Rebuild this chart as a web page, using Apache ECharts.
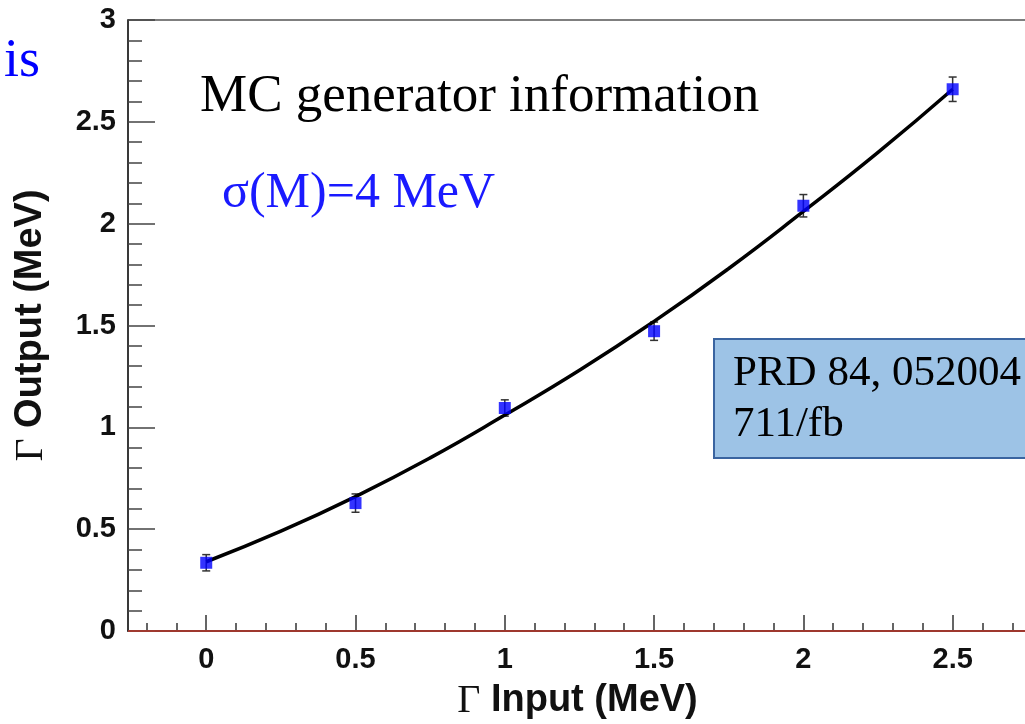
<!DOCTYPE html>
<html>
<head>
<meta charset="utf-8">
<script src="https://cdn.jsdelivr.net/npm/echarts@6/dist/echarts.min.js"></script>
<style>
  html, body { margin: 0; padding: 0; background: #fff; }
  #chart { width: 1025px; height: 724px; }
</style>
</head>
<body>
<div id="chart"></div>
<script>
// MC points: generated width vs fitted width
const inputWidth = [0, 0.5, 1, 1.5, 2, 2.5];
const outputWidth = [0.335, 0.628, 1.095, 1.472, 2.088, 2.66];
const outputError = [0.04, 0.045, 0.04, 0.045, 0.055, 0.06];

// fitted curve
const fitX = [0, 0.25, 0.5, 0.75, 1, 1.25, 1.5, 1.75, 2, 2.25, 2.5];
const fitY = [0.34, 0.49, 0.66, 0.85, 1.06, 1.28, 1.52, 1.78, 2.06, 2.35, 2.66];

const xMajorTicks = [0, 0.5, 1, 1.5, 2, 2.5];
const xMinorTicks = [-0.2, -0.1, 0.1, 0.2, 0.3, 0.4, 0.6, 0.7, 0.8, 0.9, 1.1, 1.2, 1.3, 1.4,
  1.6, 1.7, 1.8, 1.9, 2.1, 2.2, 2.3, 2.4, 2.6, 2.7];

const xMin = -0.262, xMax = 2.749;
const yMin = 0, yMax = 3, yStep = 0.5;

let myChart = echarts.init(document.getElementById('chart'));

const axisFont = { fontFamily: 'Liberation Sans', fontWeight: 'bold', fontSize: 29, color: '#111' };
const titleFont = {
  fontFamily: 'Liberation Sans', fontWeight: 'bold', fontSize: 38, color: '#111',
  rich: { g: { fontFamily: 'Liberation Serif', fontWeight: 'normal', fontSize: 40, color: '#111' } }
};

myChart.setOption({
  animation: false,
  grid: {
    left: 128, right: -2, top: 20, bottom: 93,
    outerBoundsMode: 'none', containLabel: false,
    show: true, borderColor: '#555', borderWidth: 1.5
  },
  xAxis: [
    {
      type: 'value', min: xMin, max: xMax,
      name: '{g|Γ} Input (MeV)', nameLocation: 'middle', nameGap: 50,
      nameTextStyle: titleFont,
      axisLine: { lineStyle: { color: '#222', width: 1.5 } },
      axisTick: { customValues: xMajorTicks, inside: true, length: 16, lineStyle: { color: '#333', width: 1.5 } },
      axisLabel: Object.assign({ customValues: xMajorTicks, margin: 14 }, axisFont),
      splitLine: { show: false }
    },
    {
      type: 'value', min: xMin, max: xMax, position: 'bottom',
      axisLine: { show: false },
      axisTick: { customValues: xMinorTicks, inside: true, length: 8, lineStyle: { color: '#333', width: 1.5 } },
      axisLabel: { show: false },
      splitLine: { show: false }
    }
  ],
  yAxis: {
    type: 'value', min: yMin, max: yMax, interval: yStep,
    name: '{g|Γ} Output (MeV)', nameLocation: 'middle', nameGap: 77,
    nameTextStyle: titleFont,
    axisLine: { show: true, onZero: false, lineStyle: { color: '#222', width: 1.5 } },
    axisTick: { show: true, inside: true, length: 27, lineStyle: { color: '#444', width: 1.5 } },
    minorTick: { show: true, splitNumber: 5, length: 14, lineStyle: { color: '#444', width: 1.5 } },
    axisLabel: Object.assign({ margin: 12 }, axisFont),
    splitLine: { show: false }
  },
  series: [
    {
      name: 'fit',
      type: 'line',
      smooth: true,
      symbol: 'none',
      lineStyle: { color: '#000', width: 3.5 },
      data: fitX.map((x, i) => [x, fitY[i]]),
      markLine: {
        silent: true, symbol: 'none', label: { show: false },
        lineStyle: { color: '#c0392b', width: 1.5, type: 'solid' },
        data: [{ yAxis: 0 }]
      },
      z: 3
    },
    {
      name: 'error',
      type: 'custom',
      renderItem(params, api) {
        const x = api.value(0), y = api.value(1), e = api.value(2);
        const top = api.coord([x, y + e]);
        const bot = api.coord([x, y - e]);
        const w = 4;
        const style = { stroke: '#333', lineWidth: 1.5 };
        return {
          type: 'group',
          children: [
            { type: 'line', shape: { x1: top[0], y1: top[1], x2: bot[0], y2: bot[1] }, style },
            { type: 'line', shape: { x1: top[0] - w, y1: top[1], x2: top[0] + w, y2: top[1] }, style },
            { type: 'line', shape: { x1: bot[0] - w, y1: bot[1], x2: bot[0] + w, y2: bot[1] }, style }
          ]
        };
      },
      data: inputWidth.map((x, i) => [x, outputWidth[i], outputError[i]]),
      z: 2
    },
    {
      name: 'MC',
      type: 'scatter',
      symbol: 'rect',
      symbolSize: 12,
      itemStyle: { color: '#0000ff' },
      data: inputWidth.map((x, i) => [x, outputWidth[i]]),
      z: 4
    }
  ],
  graphic: [
    {
      type: 'text', left: 4, top: 35,
      style: { text: 'is', font: '54px "Liberation Serif"', fill: '#0000ff' }
    },
    {
      type: 'text', left: 200, top: 71,
      style: { text: 'MC generator information', font: '53px "Liberation Serif"', fill: '#000' }
    },
    {
      type: 'text', left: 222, top: 169,
      style: { text: 'σ(M)=4 MeV', font: '50px "Liberation Serif"', fill: '#1a1aff' }
    },
    {
      type: 'rect', left: 713, top: 338,
      shape: { width: 330, height: 119 },
      style: { fill: '#9dc3e6', stroke: '#3a64a0', lineWidth: 2 }
    },
    {
      type: 'text', left: 733, top: 352,
      style: { text: 'PRD 84, 052004', font: '43px "Liberation Serif"', fill: '#000' }
    },
    {
      type: 'text', left: 733, top: 403,
      style: { text: '711/fb', font: '43px "Liberation Serif"', fill: '#000' }
    }
  ]
});

window.addEventListener('resize', () => {
  if (myChart) {
    myChart.resize();
  }
});
</script>
</body>
</html>
